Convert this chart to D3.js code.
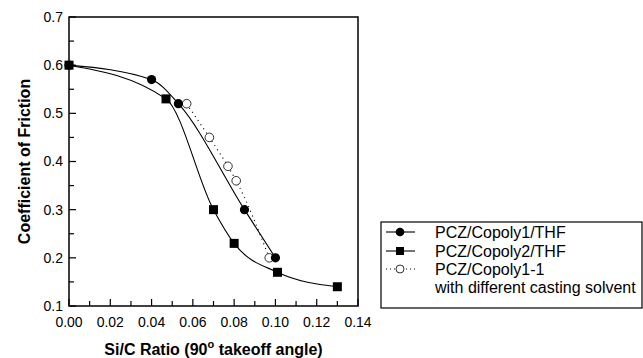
<!DOCTYPE html>
<meta charset="utf-8">
<script src="https://d3js.org/d3.v7.min.js"></script>
<style>
  body { margin: 0; background: #fff; }
  svg { font-family: 'Liberation Sans', Arial, sans-serif; }
</style>
<body>
<div id="chart"></div>
<script>

// data
var copoly1X = [0, 0.04, 0.053, 0.085, 0.1];
var copoly1Y = [0.6, 0.57, 0.52, 0.30, 0.2];
var copoly2X = [0, 0.047, 0.07, 0.08, 0.101, 0.13];
var copoly2Y = [0.6, 0.53, 0.30, 0.23, 0.17, 0.14];
var copoly11X = [0.057, 0.068, 0.077, 0.081, 0.097];
var copoly11Y = [0.52, 0.45, 0.39, 0.36, 0.2];
var xTicks = [0, 0.01, 0.02, 0.03, 0.04, 0.05, 0.06, 0.07, 0.08, 0.09, 0.10, 0.11, 0.12, 0.13, 0.14];
var yTicks = [0.1, 0.15, 0.2, 0.25, 0.3, 0.35, 0.4, 0.45, 0.5, 0.55, 0.6, 0.65, 0.7];
var legendNames = ["PCZ/Copoly1/THF", "PCZ/Copoly2/THF", "PCZ/Copoly1-1"];

var W = 643, H = 358;
var margin = {top: 17, left: 69},
    width = 289,
    height = 289;

var svg = d3.select("#chart")
  .append("svg")
    .attr("width", W)
    .attr("height", H);

var g = svg.append("g")
    .attr("transform", "translate(" + margin.left + "," + margin.top + ")");

var x = d3.scaleLinear().domain([0, 0.14]).range([0, width]);
var y = d3.scaleLinear().domain([0.1, 0.7]).range([height, 0]);

function zip(xs, ys) { return xs.map(function(v, i) { return [v, ys[i]]; }); }

// box
g.append("rect")
  .attr("width", width).attr("height", height)
  .attr("fill", "none").attr("stroke", "#000").attr("stroke-width", 1.5);

// x axis (inward ticks)
var xAxis = g.append("g").attr("transform", "translate(0," + height + ")");
xAxis.selectAll("line").data(xTicks).enter().append("line")
  .attr("x1", function(d) { return x(d); })
  .attr("x2", function(d) { return x(d); })
  .attr("y1", 0)
  .attr("y2", function(d, i) { return i % 2 == 0 ? -7 : -5; })
  .attr("stroke", "#000").attr("stroke-width", 1.2);
xAxis.selectAll("text").data(xTicks.filter(function(d, i) { return i % 2 == 0; })).enter().append("text")
  .attr("x", function(d) { return x(d); })
  .attr("y", 21)
  .attr("text-anchor", "middle")
  .attr("font-size", 14)
  .text(function(d) { return d.toFixed(2); });

// y axis
var yAxis = g.append("g");
yAxis.selectAll("line").data(yTicks).enter().append("line")
  .attr("y1", function(d) { return y(d); })
  .attr("y2", function(d) { return y(d); })
  .attr("x1", 0)
  .attr("x2", function(d, i) { return i % 2 == 0 ? 7 : 5; })
  .attr("stroke", "#000").attr("stroke-width", 1.2);
yAxis.selectAll("text").data(yTicks.filter(function(d, i) { return i % 2 == 0; })).enter().append("text")
  .attr("x", -6)
  .attr("y", function(d) { return y(d); })
  .attr("dy", "0.35em")
  .attr("text-anchor", "end")
  .attr("font-size", 14)
  .text(function(d) { return d.toFixed(1); });

// axis titles
svg.append("text")
  .attr("x", margin.left + width / 2)
  .attr("y", 355)
  .attr("text-anchor", "middle")
  .attr("font-size", 16).attr("font-weight", "bold")
  .html("Si/C Ratio (90<tspan dy='-7' font-size='11'>o</tspan><tspan dy='7'> takeoff angle)</tspan>");

svg.append("text")
  .attr("transform", "translate(30," + (margin.top + height / 2) + ") rotate(-90)")
  .attr("text-anchor", "middle")
  .attr("font-size", 16).attr("font-weight", "bold")
  .text("Coefficient of Friction");

var line = d3.line()
  .x(function(d) { return x(d[0]); })
  .y(function(d) { return y(d[1]); })
  .curve(d3.curveMonotoneX);

var s1 = zip(copoly1X, copoly1Y),
    s2 = zip(copoly2X, copoly2Y),
    s3 = zip(copoly11X, copoly11Y);

g.append("path").datum(s3).attr("d", line)
  .attr("fill", "none").attr("stroke", "#000").attr("stroke-width", 1.2)
  .attr("stroke-dasharray", "1,4");
g.append("path").datum(s1).attr("d", line)
  .attr("fill", "none").attr("stroke", "#000").attr("stroke-width", 1.1);
g.append("path").datum(s2).attr("d", line)
  .attr("fill", "none").attr("stroke", "#000").attr("stroke-width", 1.1);

// markers
g.selectAll(".open").data(s3).enter().append("circle")
  .attr("cx", function(d) { return x(d[0]); })
  .attr("cy", function(d) { return y(d[1]); })
  .attr("r", 4.3).attr("fill", "#fff").attr("stroke", "#000").attr("stroke-width", 0.8);
g.selectAll(".sq").data(s2).enter().append("rect")
  .attr("x", function(d) { return x(d[0]) - 4.5; })
  .attr("y", function(d) { return y(d[1]) - 4.5; })
  .attr("width", 9).attr("height", 9).attr("fill", "#000");
g.selectAll(".dot").data(s1).enter().append("circle")
  .attr("cx", function(d) { return x(d[0]); })
  .attr("cy", function(d) { return y(d[1]); })
  .attr("r", 4.6).attr("fill", "#000");

// legend
var lg = svg.append("g").attr("transform", "translate(381,222)");
lg.append("rect").attr("width", 261).attr("height", 86)
  .attr("fill", "#fff").attr("stroke", "#000").attr("stroke-width", 1.2);
var rowY = [10, 29, 47];
legendNames.forEach(function(name, i) {
  var ry = rowY[i];
  lg.append("line").attr("x1", 5).attr("x2", 34).attr("y1", ry).attr("y2", ry)
    .attr("stroke", "#000").attr("stroke-width", i == 2 ? 1.2 : 1.1)
    .attr("stroke-dasharray", i == 2 ? "1,3" : null);
  if (i == 0) lg.append("circle").attr("cx", 19).attr("cy", ry).attr("r", 4.3).attr("fill", "#000");
  if (i == 1) lg.append("rect").attr("x", 15).attr("y", ry - 4).attr("width", 8).attr("height", 8).attr("fill", "#000");
  if (i == 2) lg.append("circle").attr("cx", 19).attr("cy", ry).attr("r", 4).attr("fill", "#fff").attr("stroke", "#000").attr("stroke-width", 0.8);
  lg.append("text").attr("x", 54).attr("y", ry).attr("dy", "0.35em")
    .attr("font-size", 16).text(name);
});
lg.append("text").attr("x", 54).attr("y", 65).attr("dy", "0.35em")
  .attr("font-size", 16).text("with different casting solvent");

</script>
</body>
